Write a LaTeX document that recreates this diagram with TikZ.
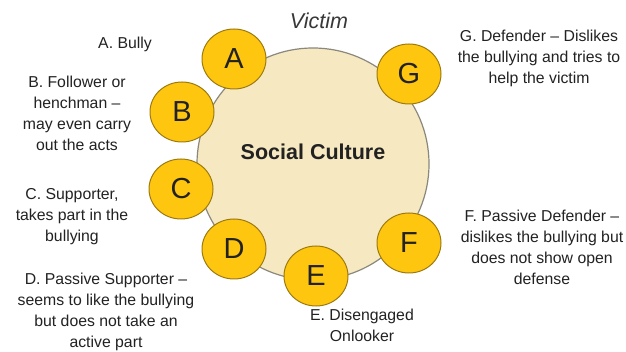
\documentclass[tikz,border=0pt]{standalone}
\usepackage{fontspec}
\setmainfont{Liberation Sans}
\usetikzlibrary{shapes.geometric}
\definecolor{beige}{HTML}{F6E9C2}
\definecolor{gold}{HTML}{FFC60F}
\definecolor{goldline}{HTML}{9C7A10}
\definecolor{ringline}{HTML}{8A877C}
\definecolor{ink}{HTML}{222222}
\tikzset{
  culture/.style={circle, draw=ringline, line width=1.2pt, fill=beige, minimum size=232pt, inner sep=0pt},
  role/.style={ellipse, draw=goldline, line width=1pt, fill=gold, minimum width=64pt, minimum height=60pt, inner sep=0pt, font=\fontsize{29}{30}\selectfont, text=ink},
  desc/.style={align=center, font=\fontsize{15.8}{21}\selectfont, text=ink, inner sep=0pt}
}
\begin{document}
\begin{tikzpicture}[x=1pt,y=-1pt]
\useasboundingbox (0,0) rectangle (626,352);
\fill[white] (0,0) rectangle (626,352);
\node[culture] (sc) at (313,164) {};
\node[font=\bfseries\fontsize{21.5}{24}\selectfont, text=ink] (sctext) at (313,152) {Social Culture};
\node[font=\itshape\fontsize{21.5}{24}\selectfont, text=ink!90] (victim) at (319,21) {Victim};
\node[role] (A) at (234,59) {A};
\node[role] (G) at (409,74) {G};
\node[role] (B) at (182,112) {B};
\node[role] (C) at (181,189) {C};
\node[role] (D) at (234,249) {D};
\node[role] (F) at (409,243) {F};
\node[role] (E) at (316,276) {E};
\node[desc] (tA) at (125,44) {A. Bully};
\node[desc] (tB) at (77,113) {B. Follower or\\henchman –\\may even carry\\out the acts};
\node[desc] (tC) at (72,217) {C. Supporter,\\takes part in the\\bullying};
\node[desc] (tD) at (106,312) {D. Passive Supporter –\\seems to like the bullying\\but does not take an\\active part};
\node[desc] (tE) at (362,325) {E. Disengaged\\Onlooker};
\node[desc] (tG) at (539,58) {G. Defender – Dislikes\\the bullying and tries to\\help the victim};
\node[desc] (tF) at (542,247) {F. Passive Defender –\\dislikes the bullying but\\does not show open\\defense};
\end{tikzpicture}
\end{document}
